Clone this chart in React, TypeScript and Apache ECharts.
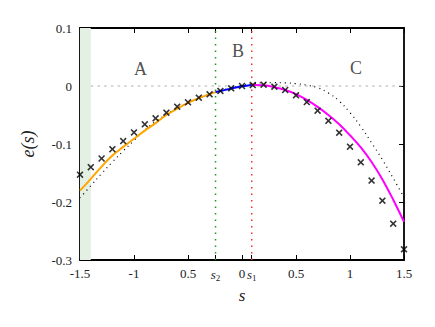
import React, { useEffect, useRef } from "react";
import * as echarts from "echarts";

const S2 = -0.245;
const S1 = 0.09;
const bandRange = [-1.5, -1.4];
const zeroLineRange = [-1.4, 1.5];
const yRange = [-0.3, 0.1];

const crossS = [-1.5, -1.4, -1.3, -1.2, -1.1, -1.0, -0.9, -0.8, -0.7, -0.6, -0.5, -0.4, -0.3, -0.2, -0.1, 0.0, 0.1, 0.2, 0.3, 0.4, 0.5, 0.6, 0.7, 0.8, 0.9, 1.0, 1.1, 1.2, 1.3, 1.4, 1.5];
const crossE = [-0.153, -0.14, -0.125, -0.109, -0.095, -0.08, -0.066, -0.0557, -0.046, -0.0357, -0.0282, -0.0201, -0.0144, -0.0086, -0.004, 0.0, 0.0017, 0.0022, -0.0011, -0.0069, -0.016, -0.0276, -0.0425, -0.06, -0.0805, -0.1046, -0.1316, -0.163, -0.1977, -0.2374, -0.2816];

const orangeS = [-1.5, -1.4, -1.3, -1.2, -1.1, -1.0, -0.9, -0.8, -0.7, -0.6, -0.5, -0.4, -0.3, S2];
const orangeE = [-0.1805, -0.16, -0.139, -0.12, -0.105, -0.091, -0.077, -0.064, -0.05, -0.039, -0.029, -0.021, -0.014, -0.0105];

const blueS = [S2, -0.2, -0.1, 0.0, S1];
const blueE = [-0.0105, -0.0087, -0.0042, -0.0005, 0.0018];

const magentaS = [S1, 0.2, 0.3, 0.4, 0.5, 0.6, 0.7, 0.8, 0.9, 1.0, 1.1, 1.2, 1.3, 1.4, 1.5];
const magentaE = [0.0018, 0.0012, -0.002, -0.007, -0.014, -0.024, -0.036, -0.05, -0.066, -0.085, -0.106, -0.131, -0.161, -0.196, -0.234];

const dotS = [-1.5, -1.4, -1.3, -1.2, -1.1, -1.0, -0.9, -0.8, -0.7, -0.6, -0.5, -0.4, -0.3, -0.2, -0.1, 0.0, 0.1, 0.2, 0.3, 0.4, 0.5, 0.6, 0.7, 0.8, 0.9, 1.0, 1.1, 1.2, 1.3, 1.4, 1.5];
const dotE = [-0.193, -0.172, -0.151, -0.131, -0.112, -0.094, -0.076, -0.061, -0.049, -0.038, -0.029, -0.021, -0.014, -0.008, -0.003, 0.001, 0.004, 0.0055, 0.0058, 0.0055, 0.004, 0.0015, -0.003, -0.012, -0.026, -0.046, -0.07, -0.098, -0.127, -0.159, -0.192];

const xTicks = [-1.5, -1, -0.5, S2, 0, S1, 0.5, 1, 1.5];
const xTickLabels = ["-1.5", "-1", "0.5", "{it|s}{sub|2}", "0", "{it|s}{sub|1}", "0.5", "1", "1.5"];

const regionLabels = ["A", "B", "C"];
const regionS = [-0.94, -0.037, 1.056];
const regionE = [0.0293, 0.0603, 0.0302];

const SERIF = "'Liberation Serif', 'DejaVu Serif', serif";

const zip = (a: number[], b: number[]) => a.map((v, i) => [v, b[i]]);

export default function App() {
  const ref = useRef<HTMLDivElement>(null);
  useEffect(() => {
    if (!ref.current) return;
    const chart = echarts.init(ref.current, undefined, { renderer: "svg" });
    const crossPath = "path://M0,1.6L1.6,0L5,3.4L8.4,0L10,1.6L6.6,5L10,8.4L8.4,10L5,6.6L1.6,10L0,8.4L3.4,5Z";
    const axisLine = { show: true, onZero: false, lineStyle: { color: "#000", width: 1.8 } };
    const tick = { show: true, inside: true, length: 5, lineStyle: { color: "#000", width: 1 } };
    chart.setOption({
      animation: false,
      backgroundColor: "#fff",
      grid: { left: 80, right: 31, top: 28, bottom: 67, show: false },
      xAxis: [
        {
          type: "value",
          min: -1.5,
          max: 1.5,
          position: "bottom",
          axisLine,
          axisTick: { ...tick, customValues: xTicks },
          splitLine: { show: false },
          axisLabel: {
            customValues: xTicks,
            margin: 7,
            color: "#222",
            fontFamily: SERIF,
            fontSize: 13,
            formatter: (v: number) => {
              const i = xTicks.findIndex((t) => Math.abs(t - v) < 1e-6);
              return i >= 0 ? xTickLabels[i] : "";
            },
            rich: {
              it: { fontFamily: SERIF, fontStyle: "italic", fontSize: 13, color: "#222" },
              sub: { fontFamily: SERIF, fontSize: 9, color: "#222", padding: [6, 0, 0, 0] },
            },
          },
          name: "s",
          nameLocation: "middle",
          nameGap: 27,
          nameTextStyle: { fontFamily: SERIF, fontStyle: "italic", fontSize: 17, color: "#222" },
        },
        {
          type: "value",
          min: -1.5,
          max: 1.5,
          position: "top",
          axisLine,
          axisTick: { ...tick, customValues: xTicks },
          axisLabel: { show: false },
          splitLine: { show: false },
        },
      ],
      yAxis: [
        {
          type: "value",
          min: yRange[0],
          max: yRange[1],
          interval: 0.1,
          position: "left",
          axisLine,
          axisTick: tick,
          splitLine: { show: false },
          axisLabel: {
            margin: 8,
            color: "#222",
            fontFamily: SERIF,
            fontSize: 13,
            formatter: (v: number) => String(Number(v.toFixed(1))),
          },
          name: "e(s)",
          nameLocation: "middle",
          nameGap: 43,
          nameRotate: 90,
          nameTextStyle: { fontFamily: SERIF, fontStyle: "italic", fontSize: 18, color: "#222" },
        },
        {
          type: "value",
          min: yRange[0],
          max: yRange[1],
          interval: 0.1,
          position: "right",
          axisLine,
          axisTick: tick,
          axisLabel: { show: false },
          splitLine: { show: false },
        },
      ],
      series: [
        {
          type: "line",
          z: 1,
          data: [[bandRange[0], 0], [bandRange[0], 0]],
          symbol: "none",
          lineStyle: { opacity: 0 },
          markArea: {
            silent: true,
            itemStyle: { color: "#e3f0e3" },
            data: [[{ xAxis: bandRange[0] }, { xAxis: bandRange[1] }]],
          },
        },
        {
          type: "line",
          z: 2,
          data: [[zeroLineRange[0], 0], [zeroLineRange[1], 0]],
          symbol: "none",
          lineStyle: { color: "#b0b0b0", width: 1, type: [2.5, 4.2] },
        },
        {
          type: "line",
          z: 3,
          data: zip(dotS, dotE),
          smooth: 0.4,
          symbol: "none",
          lineStyle: { color: "#000", width: 1.2, type: [1, 4] },
        },
        {
          type: "line",
          z: 4,
          data: zip(orangeS, orangeE),
          smooth: 0.4,
          symbol: "none",
          lineStyle: { color: "#FFA500", width: 2 },
        },
        {
          type: "line",
          z: 4,
          data: zip(blueS, blueE),
          smooth: 0.4,
          symbol: "none",
          lineStyle: { color: "#0000FF", width: 2 },
        },
        {
          type: "line",
          z: 4,
          data: zip(magentaS, magentaE),
          smooth: 0.4,
          symbol: "none",
          lineStyle: { color: "#FF00FF", width: 2 },
        },
        {
          type: "line",
          z: 5,
          data: [[S2, yRange[0]], [S2, yRange[1]]],
          symbol: "none",
          lineStyle: { color: "#1a9a1a", width: 1.5, type: [1.5, 5] },
        },
        {
          type: "line",
          z: 5,
          data: [[S1, yRange[0]], [S1, yRange[1]]],
          symbol: "none",
          lineStyle: { color: "#ff2a2a", width: 1.5, type: [1.5, 5] },
        },
        {
          type: "scatter",
          z: 6,
          data: zip(crossS, crossE),
          symbol: crossPath,
          symbolSize: 7,
          itemStyle: { color: "#000" },
        },
        {
          type: "scatter",
          z: 7,
          data: regionLabels.map((n, i) => ({ value: [regionS[i], regionE[i]], name: n })),
          symbolSize: 1,
          itemStyle: { color: "rgba(0,0,0,0)" },
          label: {
            show: true,
            position: "inside",
            formatter: (p: any) => p.name,
            fontFamily: SERIF,
            fontSize: 18,
            color: "#222",
          },
        },
      ],
    });
    return () => chart.dispose();
  }, []);
  return (
    <div
      ref={ref}
      style={{ position: "fixed", left: 0, top: 0, width: 435, height: 327 }}
    />
  );
}
